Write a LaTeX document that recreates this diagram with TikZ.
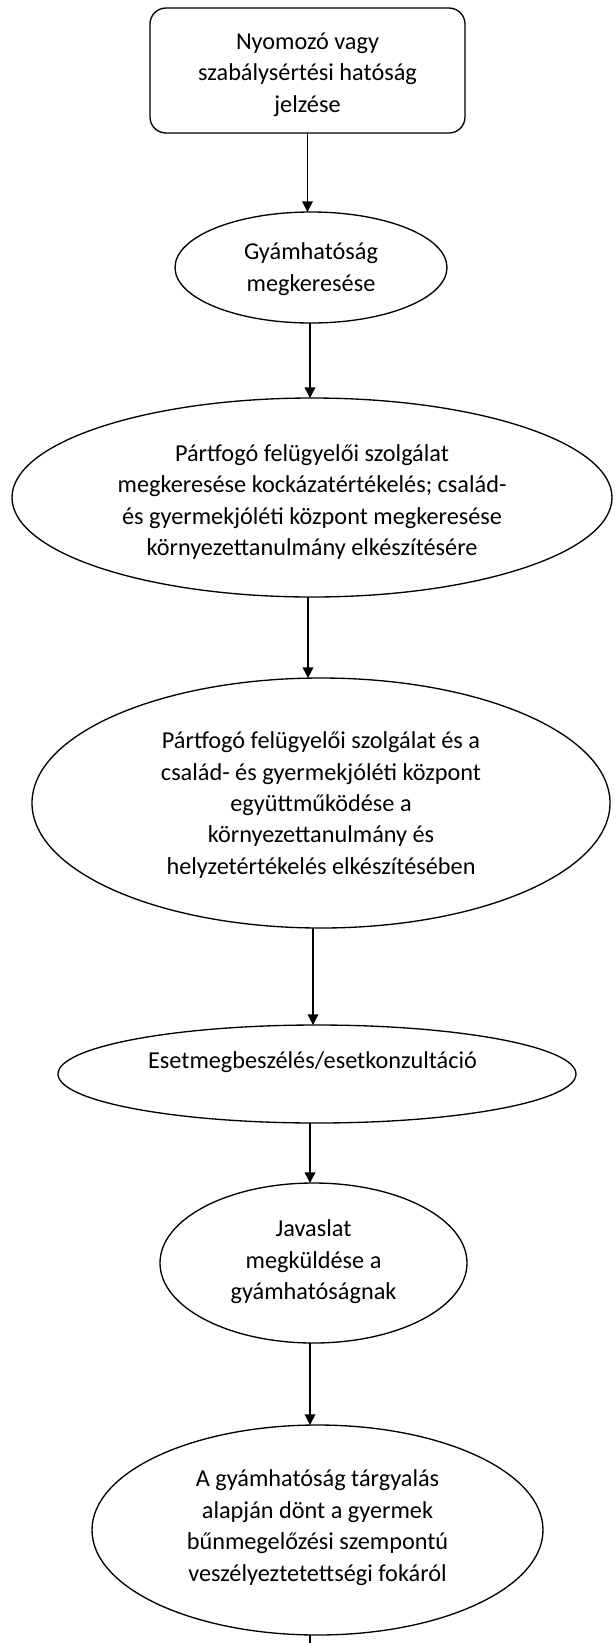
\documentclass[tikz,border=0pt]{standalone}
\usepackage{fontspec}
\setmainfont{Carlito}
\usetikzlibrary{shapes.geometric,arrows.meta}
\begin{document}
\begin{tikzpicture}[x=0.75pt,y=-0.75pt,
  every node/.style={inner sep=0pt, outer sep=0pt},
  shp/.style={draw, line width=1pt},
  ell/.style={shp, ellipse},
  txt/.style={align=center, font=\fontsize{18.2}{23.6}\selectfont},
  arr/.style={line width=1pt, -{Triangle[length=8pt,width=8pt]}},
  ln/.style={line width=1pt}]
\useasboundingbox (0,0) rectangle (615,1643);

\node[shp, rounded corners=12pt, minimum width=315*0.75pt, minimum height=125*0.75pt] (box) at (307.5,70.5) {};
\node[txt] (t1) at (307.5,74.5) {Nyomozó vagy\\szabálysértési hatóság\\jelzése};

\node[ell, minimum width=272*0.75pt, minimum height=111*0.75pt] (e2) at (311,267.5) {};
\node[txt] (t2) at (311,269) {Gyámhatóság\\megkeresése};

\node[ell, minimum width=600*0.75pt, minimum height=199*0.75pt] (e3) at (312,497.5) {};
\node[txt] (t3) at (312,502) {Pártfogó felügyelői szolgálat\\megkeresése kockázatértékelés; család-\\és gyermekjóléti központ megkeresése\\környezettanulmány elkészítésére};

\node[ell, minimum width=578*0.75pt, minimum height=250*0.75pt] (e4) at (321,803) {};
\node[txt] (t4) at (321,805) {Pártfogó felügyelői szolgálat és a\\család- és gyermekjóléti központ\\együttműködése a\\környezettanulmány és\\helyzetértékelés elkészítésében};

\node[ell, minimum width=518*0.75pt, minimum height=98*0.75pt] (e5) at (317,1074) {};
\node[txt] (t5) at (312.5,1062) {Esetmegbeszélés/esetkonzultáció};

\node[ell, minimum width=307*0.75pt, minimum height=160*0.75pt] (e6) at (313.5,1263) {};
\node[txt] (t6) at (313.5,1262) {Javaslat\\megküldése a\\gyámhatóságnak};

\node[ell, minimum width=451*0.75pt, minimum height=210*0.75pt] (e7) at (317.5,1530) {};
\node[txt] (t7) at (317.5,1527.5) {A gyámhatóság tárgyalás\\alapján dönt a gyermek\\bűnmegelőzési szempontú\\veszélyeztetettségi fokáról};

\coordinate (end) at (310,1643);

\draw[arr] (box.south) -- (box.south |- e2.north);
\draw[arr] ([xshift=-0.75pt]e2.south) -- ([xshift=-0.75pt]e2.south |- e3.north);
\draw[arr] ([xshift=-3pt]e3.south) -- ([xshift=-3pt]e3.south |- e4.north);
\draw[arr] ([xshift=-6pt]e4.south) -- ([xshift=-6pt]e4.south |- e5.north);
\draw[arr] ([xshift=-5.25pt]e5.south) -- ([xshift=-5.25pt]e5.south |- e6.north);
\draw[arr] ([xshift=-2.6pt]e6.south) -- ([xshift=-2.6pt]e6.south |- e7.north);
\draw[ln] ([xshift=-5.6pt]e7.south) -- ([xshift=-5.6pt]e7.south |- end);
\end{tikzpicture}
\end{document}
